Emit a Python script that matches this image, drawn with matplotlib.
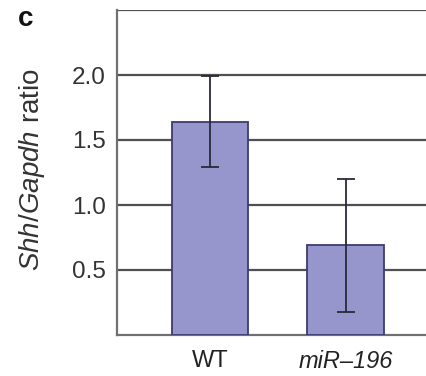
import matplotlib
matplotlib.use("Agg")
import matplotlib.pyplot as plt

categories = ["WT", "miR\u2013196"]
values = [1.64, 0.69]
errors = [0.35, 0.51]
yticks = [0.5, 1.0, 1.5, 2.0]
ytick_labels = ["0.5", "1.0", "1.5", "2.0"]

plt.rcParams['font.family'] = ['Liberation Sans', 'DejaVu Sans']
plt.rcParams['mathtext.fontset'] = 'custom'
plt.rcParams['mathtext.rm'] = 'Liberation Sans'
plt.rcParams['mathtext.it'] = 'Liberation Sans:italic'

fig = plt.figure(figsize=(4.27, 3.76), dpi=100)
ax = fig.add_axes([117/427, 1-335/376, 1-117/427, (335-10)/376])

x = list(range(len(categories)))
ax.bar(x, values, width=0.566, color='#9696cc', edgecolor='#3c3c6e', linewidth=1.3, zorder=3)
ax.errorbar(x, values, yerr=errors, fmt='none', ecolor='#2a2a3a', elinewidth=1.3,
            capsize=6.5, capthick=1.3, zorder=4)

ax.set_xlim(-0.684, 1.596)
ax.set_ylim(0, 2.5)
ax.set_yticks(yticks)
ax.set_yticklabels(ytick_labels, fontsize=17.5, color='#333333')
for yv in yticks + [2.5]:
    ax.axhline(yv, color='#505050', linewidth=1.6, zorder=1)
ax.set_xticks(x)
ax.set_xticklabels(categories, fontsize=17, color='#222222')
ax.get_xticklabels()[1].set_style('italic')
ax.tick_params(axis='y', length=0, pad=8)
ax.tick_params(axis='x', length=0, pad=11)
for s in ['top', 'right']:
    ax.spines[s].set_visible(False)
ax.spines['left'].set_color('#707070')
ax.spines['left'].set_linewidth(1.6)
ax.spines['bottom'].set_color('#707070')
ax.spines['bottom'].set_linewidth(1.6)

fig.text(32/427, 1-170/376, r"$\mathit{Shh/Gapdh}$ ratio", rotation=90, ha='center', va='center',
         fontsize=20, color='#333333')
fig.text(18/427, 1-19/376, "c", fontsize=20, fontweight='heavy', ha='left', va='center', color='#111111')

fig.savefig("out.png", dpi=100)
